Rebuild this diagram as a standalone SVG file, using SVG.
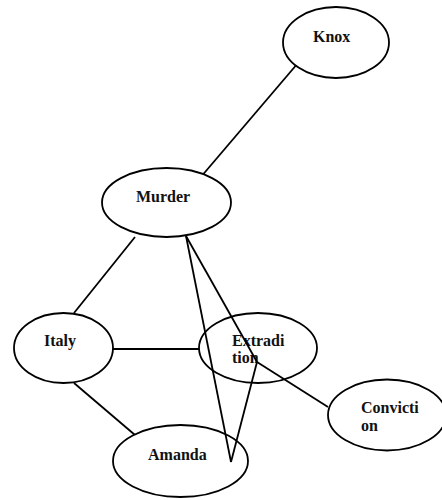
<svg xmlns="http://www.w3.org/2000/svg" width="442" height="500" viewBox="0 0 442 500">
<style>
ellipse{fill:#fff;stroke:#000;stroke-width:1.8}
line{stroke:#000;stroke-width:1.8}
text{font-family:"Liberation Serif","Times New Roman",serif;font-weight:bold;font-size:16px;fill:#111}
</style>
<rect width="442" height="500" fill="#fff"/>
<g id="connectors">
<line x1="298" y1="63" x2="200" y2="178"/>
<line x1="135" y1="237" x2="74" y2="313"/>
<line x1="113" y1="349" x2="199" y2="349"/>
<line x1="74" y1="383" x2="135" y2="435"/>
</g>
<g id="knox"><ellipse cx="336" cy="42.5" rx="53" ry="35.5"/><text x="313" y="42">Knox</text></g>
<g id="murder"><ellipse cx="166.5" cy="202.5" rx="64.5" ry="34.5"/><text x="136" y="202">Murder</text></g>
<g id="italy"><ellipse cx="63.5" cy="348" rx="49.5" ry="35"/><text x="44" y="346">Italy</text></g>
<g id="extradition"><ellipse cx="258" cy="348" rx="59" ry="35"/><text x="232" y="345.5">Extradi</text><text x="232" y="363">tion</text></g>
<g id="conviction"><ellipse cx="387" cy="415" rx="59" ry="35.5"/><text x="361" y="413">Convicti</text><text x="361" y="431">on</text></g>
<g id="amanda"><ellipse cx="180.5" cy="461" rx="67.5" ry="36"/><text x="148" y="460">Amanda</text></g>
<g id="connectors-over">
<line x1="186" y1="236" x2="231" y2="462"/>
<line x1="186" y1="236" x2="257" y2="362"/>
<line x1="257" y1="362" x2="231" y2="462"/>
<line x1="257" y1="362" x2="328" y2="407"/>
</g>
</svg>
